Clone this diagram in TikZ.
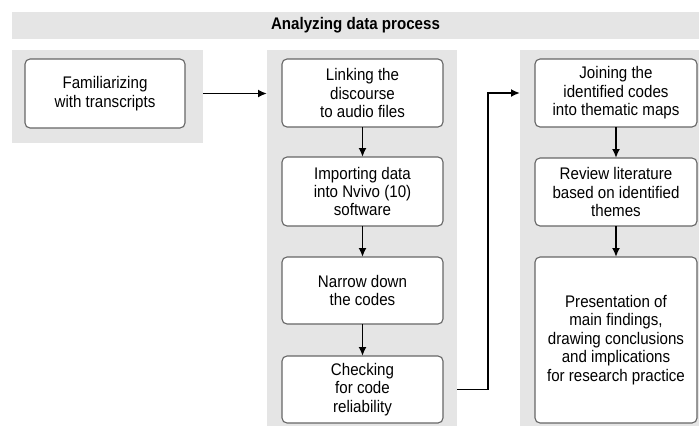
\documentclass[tikz,border=0pt]{standalone}
\usepackage{fontspec}
\setmainfont[FakeStretch=0.9]{Liberation Sans}
\usetikzlibrary{arrows.meta}
\definecolor{panelgray}{HTML}{E5E5E5}
\definecolor{boxborder}{HTML}{666666}
\tikzset{
  panel/.style={fill=panelgray, draw=none, inner sep=0pt, outer sep=0pt, anchor=north west},
  stepbox/.style={draw=boxborder, line width=1.1pt, rounded corners=5pt, fill=white,
    align=center, font=\fontsize{16.8}{18.4}\selectfont, inner sep=0pt, outer sep=0pt},
  flow/.style={-{Latex[length=9pt,width=8pt]}, line width=1.9pt}
}
\begin{document}
\begin{tikzpicture}[x=1pt,y=-1pt]
\useasboundingbox (0,0) rectangle (699,426);
% title band
\node[panel, minimum width=687pt, minimum height=27pt] (band) at (12,12) {};
\node[font=\bfseries\fontsize{16.8}{18}\selectfont] (title) at (band.center) {Analyzing data process};
% panels
\node[panel, minimum width=191pt, minimum height=93pt] (p1) at (12,50) {};
\node[panel, minimum width=190pt, minimum height=376pt] (p2) at (267,50) {};
\node[panel, minimum width=179pt, minimum height=376pt] (p3) at (520,50) {};
% boxes
\node[stepbox, minimum width=160pt, minimum height=69pt] (fam) at (105,93.5) {Familiarizing\\with transcripts};
\node[stepbox, minimum width=161pt, minimum height=68pt] (link) at (362.5,93) {Linking the\\discourse\\to audio files};
\node[stepbox, minimum width=161pt, minimum height=69pt] (imp) at (362.5,191.5) {Importing data\\into Nvivo (10)\\software};
\node[stepbox, minimum width=161pt, minimum height=67pt] (nar) at (362.5,290.5) {Narrow down\\the codes};
\node[stepbox, minimum width=161pt, minimum height=67pt] (chk) at (362.5,389.5) {Checking\\for code\\reliability};
\node[stepbox, minimum width=162pt, minimum height=68pt] (join) at (616,93) {Joining the\\identified codes\\into thematic maps};
\node[stepbox, minimum width=162pt, minimum height=68pt] (rev) at (616,192) {Review literature\\based on identified\\themes};
\node[stepbox, minimum width=162pt, minimum height=166pt] (pres) at (616,340) {Presentation of\\main findings,\\drawing conclusions\\and implications\\for research practice};
% connectors
\draw[flow] (p1.east |- fam) -- (p2.west |- fam);
\draw[flow] (link) -- (imp);
\draw[flow] (imp) -- (nar);
\draw[flow] (nar) -- (chk);
\draw[flow] (join) -- (rev);
\draw[flow] (rev) -- (pres);
\coordinate (bend) at (488,0);
\draw[flow] (p2.east |- chk) -- (bend |- chk) -- (bend |- join) -- (p3.west |- join);
\end{tikzpicture}
\end{document}
